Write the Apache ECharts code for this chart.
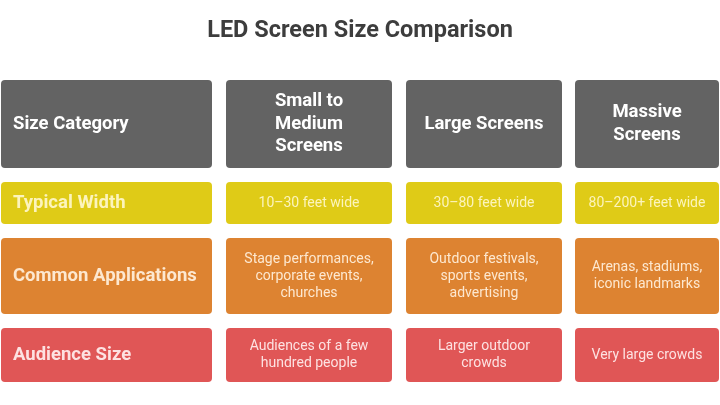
<!DOCTYPE html>
<html><head><meta charset="utf-8">
<script src="https://cdn.jsdelivr.net/npm/echarts@6/dist/echarts.min.js"></script>
<style>html,body{margin:0;padding:0;background:#fff}#c{width:720px;height:405px}</style>
</head><body><div id="c"></div>
<script>
// ---- data ----
const title = 'LED Screen Size Comparison';
const columnHeaders = ['Size Category', 'Small to\nMedium\nScreens', 'Large Screens', 'Massive\nScreens'];
const rowLabels = ['Typical Width', 'Common Applications', 'Audience Size'];
const typicalWidth = ['10–30 feet wide', '30–80 feet wide', '80–200+ feet wide'];
const commonApplications = ['Stage performances,\ncorporate events,\nchurches', 'Outdoor festivals,\nsports events,\nadvertising', 'Arenas, stadiums,\niconic landmarks'];
const audienceSize = ['Audiences of a few\nhundred people', 'Larger outdoor\ncrowds', 'Very large crowds'];

// ---- layout / style (not data) ----
const colSpans = [[1, 212], [226, 392], [406, 562], [575, 719]];
const rowSpans = [[80, 168], [182, 224], [238, 314], [328, 382]];
const rowFill = ['#636363', '#dfcb17', '#dd8331', '#e05656'];
const rowText = ['#ffffff', '#fcf4bc', '#fde8d0', '#fde2e2'];

const rows = [columnHeaders, [rowLabels[0]].concat(typicalWidth), [rowLabels[1]].concat(commonApplications), [rowLabels[2]].concat(audienceSize)];
const cells = [];
rows.forEach((r, ri) => r.forEach((t, ci) => cells.push([ci, ri, t])));

const chart = echarts.init(document.getElementById('c'));
chart.setOption({
  animation: false,
  title: { text: title, left: 'center', top: 14, textStyle: { fontFamily: 'Roboto', fontSize: 23.5, fontWeight: 'bold', color: '#3d3d3d' } },
  grid: { left: 0, right: 0, top: 0, bottom: 0 },
  xAxis: { type: 'value', min: 0, max: 720, show: false },
  yAxis: { type: 'value', min: 0, max: 405, inverse: true, show: false },
  series: [{
    type: 'custom',
    data: cells,
    renderItem: function (params, api) {
      const ci = api.value(0), ri = api.value(1);
      const text = cells[params.dataIndex][2];
      const p0 = api.coord([colSpans[ci][0], rowSpans[ri][0]]);
      const p1 = api.coord([colSpans[ci][1], rowSpans[ri][1]]);
      const w = p1[0] - p0[0], h = p1[1] - p0[1];
      const isLabel = ci === 0;
      const isHeader = ri === 0;
      const big = isLabel || isHeader;
      const fs = big ? 18.5 : 14;
      return {
        type: 'group',
        children: [
          { type: 'rect', shape: { x: p0[0], y: p0[1], width: w, height: h, r: 4 }, style: { fill: rowFill[ri] } },
          { type: 'text', x: isLabel ? p0[0] + 12 : p0[0] + w / 2, y: p0[1] + h / 2,
            style: { text: text, fill: rowText[ri], font: (big ? 'bold ' : '') + fs + 'px Roboto',
              align: isLabel ? 'left' : 'center', verticalAlign: 'middle', lineHeight: big ? 22.5 : 17 } }
        ]
      };
    }
  }]
});
</script></body></html>
